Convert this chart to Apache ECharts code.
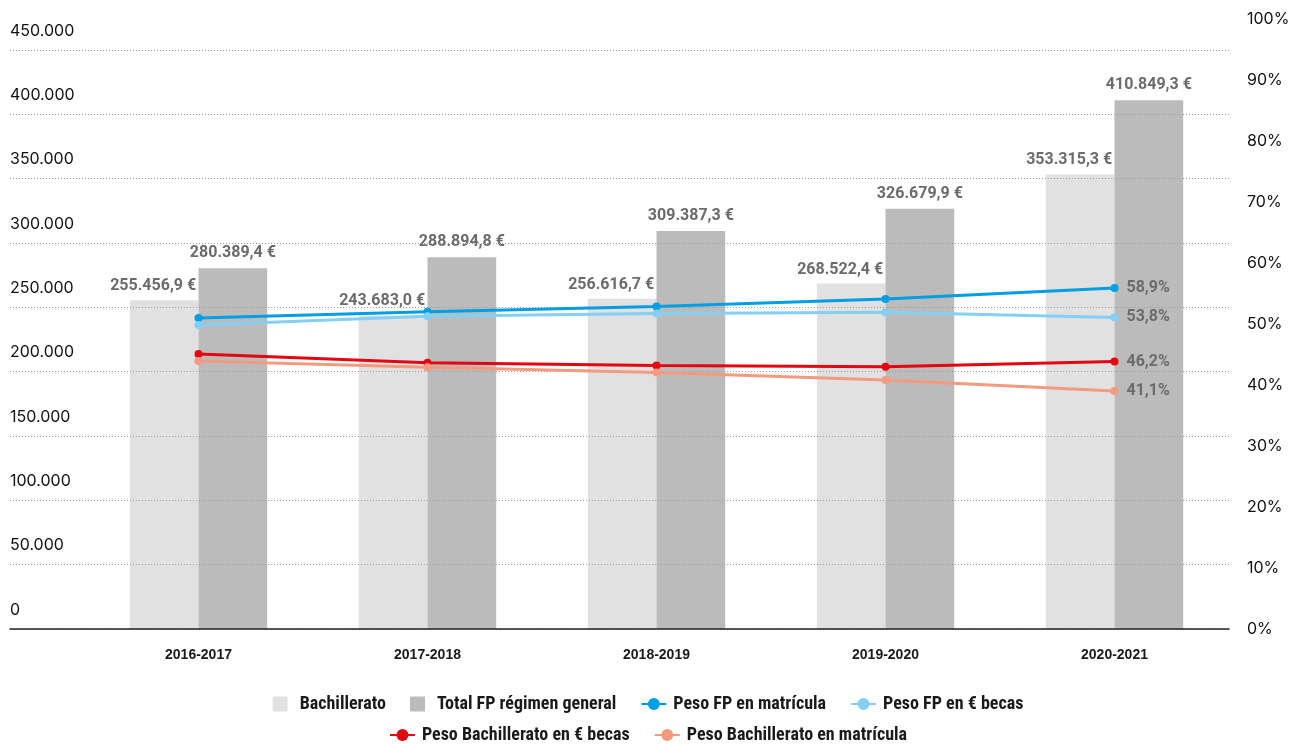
<!DOCTYPE html>
<html>
<head>
<meta charset="utf-8">
<script src="https://cdn.jsdelivr.net/npm/echarts@6/dist/echarts.min.js"></script>
<style>
html,body{margin:0;padding:0;background:#fff;}
#chart{width:1296px;height:744px;}
</style>
</head>
<body>
<div id="chart"></div>
<script>
const categories = ['2016-2017', '2017-2018', '2018-2019', '2019-2020', '2020-2021'];
const bachillerato = [255456.9, 243683.0, 256616.7, 268522.4, 353315.3];
const totalFP = [280389.4, 288894.8, 309387.3, 326679.9, 410849.3];
const pesoFPMatricula = [53.7, 54.8, 55.7, 57.0, 58.9];
const pesoFPBecas = [52.5, 54.0, 54.5, 54.7, 53.8];
const pesoBachBecas = [47.5, 46.0, 45.5, 45.3, 46.2];
const pesoBachMatricula = [46.3, 45.2, 44.3, 43.0, 41.1];
const leftTicks = { min: 0, max: 450000, interval: 50000 };
const rightTicks = { min: 0, max: 100, interval: 10 };

function thousands(s) { return s.replace(/\B(?=(\d{3})+(?!\d))/g, '.'); }
function euro(v) { const [i, d] = v.toFixed(1).split('.'); return thousands(i) + ',' + d + ' €'; }
function pct(v) { return v.toFixed(1).replace('.', ',') + '%'; }

const chart = echarts.init(document.getElementById('chart'));
const labelStyle = { fontFamily: 'Roboto', fontWeight: 'bold', fontSize: 16, color: '#6b6b6b' };
function lineSeries(name, data, color) {
  return {
    name, type: 'line', data, xAxisIndex: 0, yAxisIndex: 1, z: 5,
    symbol: 'circle', symbolSize: 8,
    lineStyle: { color, width: 3 }, itemStyle: { color },
    label: Object.assign({ show: true, position: 'right', distance: 8,
      formatter: p => p.dataIndex === data.length - 1 ? pct(p.value) : '' }, labelStyle)
  };
}
const legendText = { fontFamily: 'Liberation Sans Narrow, Roboto Condensed, Liberation Sans', fontWeight: 'bold', fontSize: 18, color: '#1a1a1a', padding: [0, 0, 0, 2] };
const square = 'path://M0,0H10V10H0Z';
const legendBase = { left: 'center', padding: 0, itemWidth: 25, itemHeight: 15, itemGap: 24, textStyle: legendText, symbolKeepAspect: true };

chart.setOption({
  animation: false,
  backgroundColor: '#fff',
  legend: [
    Object.assign({ top: 695, data: [
      { name: 'Bachillerato', icon: square },
      { name: 'Total FP régimen general', icon: square },
      'Peso FP en matrícula', 'Peso FP en € becas'] }, legendBase),
    Object.assign({ top: 726, data: ['Peso Bachillerato en € becas', 'Peso Bachillerato en matrícula'] }, legendBase)
  ],
  grid: [
    { left: 84, right: 67, top: 50, bottom: 115 },
    { left: 10, right: 67, top: 50, bottom: 115 },
    { left: 10, right: 67, top: 19, bottom: 115 }
  ],
  xAxis: [
    { gridIndex: 0, type: 'category', data: categories,
      axisLine: { show: false }, axisTick: { show: false },
      axisLabel: { margin: 19, fontFamily: 'Liberation Sans', fontWeight: 'bold', fontSize: 14, color: '#1a1a1a' } },
    { gridIndex: 1, type: 'category', data: [''], axisTick: { show: false }, axisLabel: { show: false },
      axisLine: { show: true, lineStyle: { color: '#222', width: 1.5 } }, z: 4 },
    { gridIndex: 2, type: 'category', data: [''], show: false }
  ],
  yAxis: [
    { gridIndex: 0, type: 'value', min: leftTicks.min, max: leftTicks.max, show: false },
    { gridIndex: 0, type: 'value', min: rightTicks.min, max: rightTicks.max, show: false },
    { gridIndex: 1, type: 'value', min: leftTicks.min, max: leftTicks.max, interval: leftTicks.interval, z: 3,
      axisLine: { show: false }, axisTick: { show: false },
      splitLine: { show: true, lineStyle: { type: [1, 2], color: '#9a9a9a', width: 1 } },
      axisLabel: { inside: true, margin: 0, align: 'left', verticalAlign: 'bottom', padding: [0, 0, 11, 0],
        fontFamily: 'Inter', fontSize: 16, color: '#111', formatter: v => thousands(String(v)) } },
    { gridIndex: 2, type: 'value', position: 'right', min: rightTicks.min, max: rightTicks.max, interval: rightTicks.interval,
      axisLine: { show: false }, axisTick: { show: false }, splitLine: { show: false },
      axisLabel: { margin: 18, align: 'left', fontFamily: 'Inter', fontSize: 16, color: '#111', formatter: '{value}%' } }
  ],
  series: [
    { name: 'Bachillerato', type: 'bar', data: bachillerato, xAxisIndex: 0, yAxisIndex: 0, z: 2,
      barGap: '0%', barCategoryGap: '40%', itemStyle: { color: '#e1e1e1' },
      label: Object.assign({ show: true, position: 'top', distance: 6, align: 'right', offset: [32, 0], formatter: p => euro(p.value) }, labelStyle) },
    { name: 'Total FP régimen general', type: 'bar', data: totalFP, xAxisIndex: 0, yAxisIndex: 0, z: 2,
      barGap: '0%', barCategoryGap: '40%', itemStyle: { color: '#bbbbbb' },
      label: Object.assign({ show: true, position: 'top', distance: 7, formatter: p => euro(p.value) }, labelStyle) },
    lineSeries('Peso FP en matrícula', pesoFPMatricula, '#009fe3'),
    lineSeries('Peso FP en € becas', pesoFPBecas, '#84d0f5'),
    lineSeries('Peso Bachillerato en € becas', pesoBachBecas, '#e30613'),
    lineSeries('Peso Bachillerato en matrícula', pesoBachMatricula, '#f39b7f')
  ]
});
</script>
</body>
</html>
